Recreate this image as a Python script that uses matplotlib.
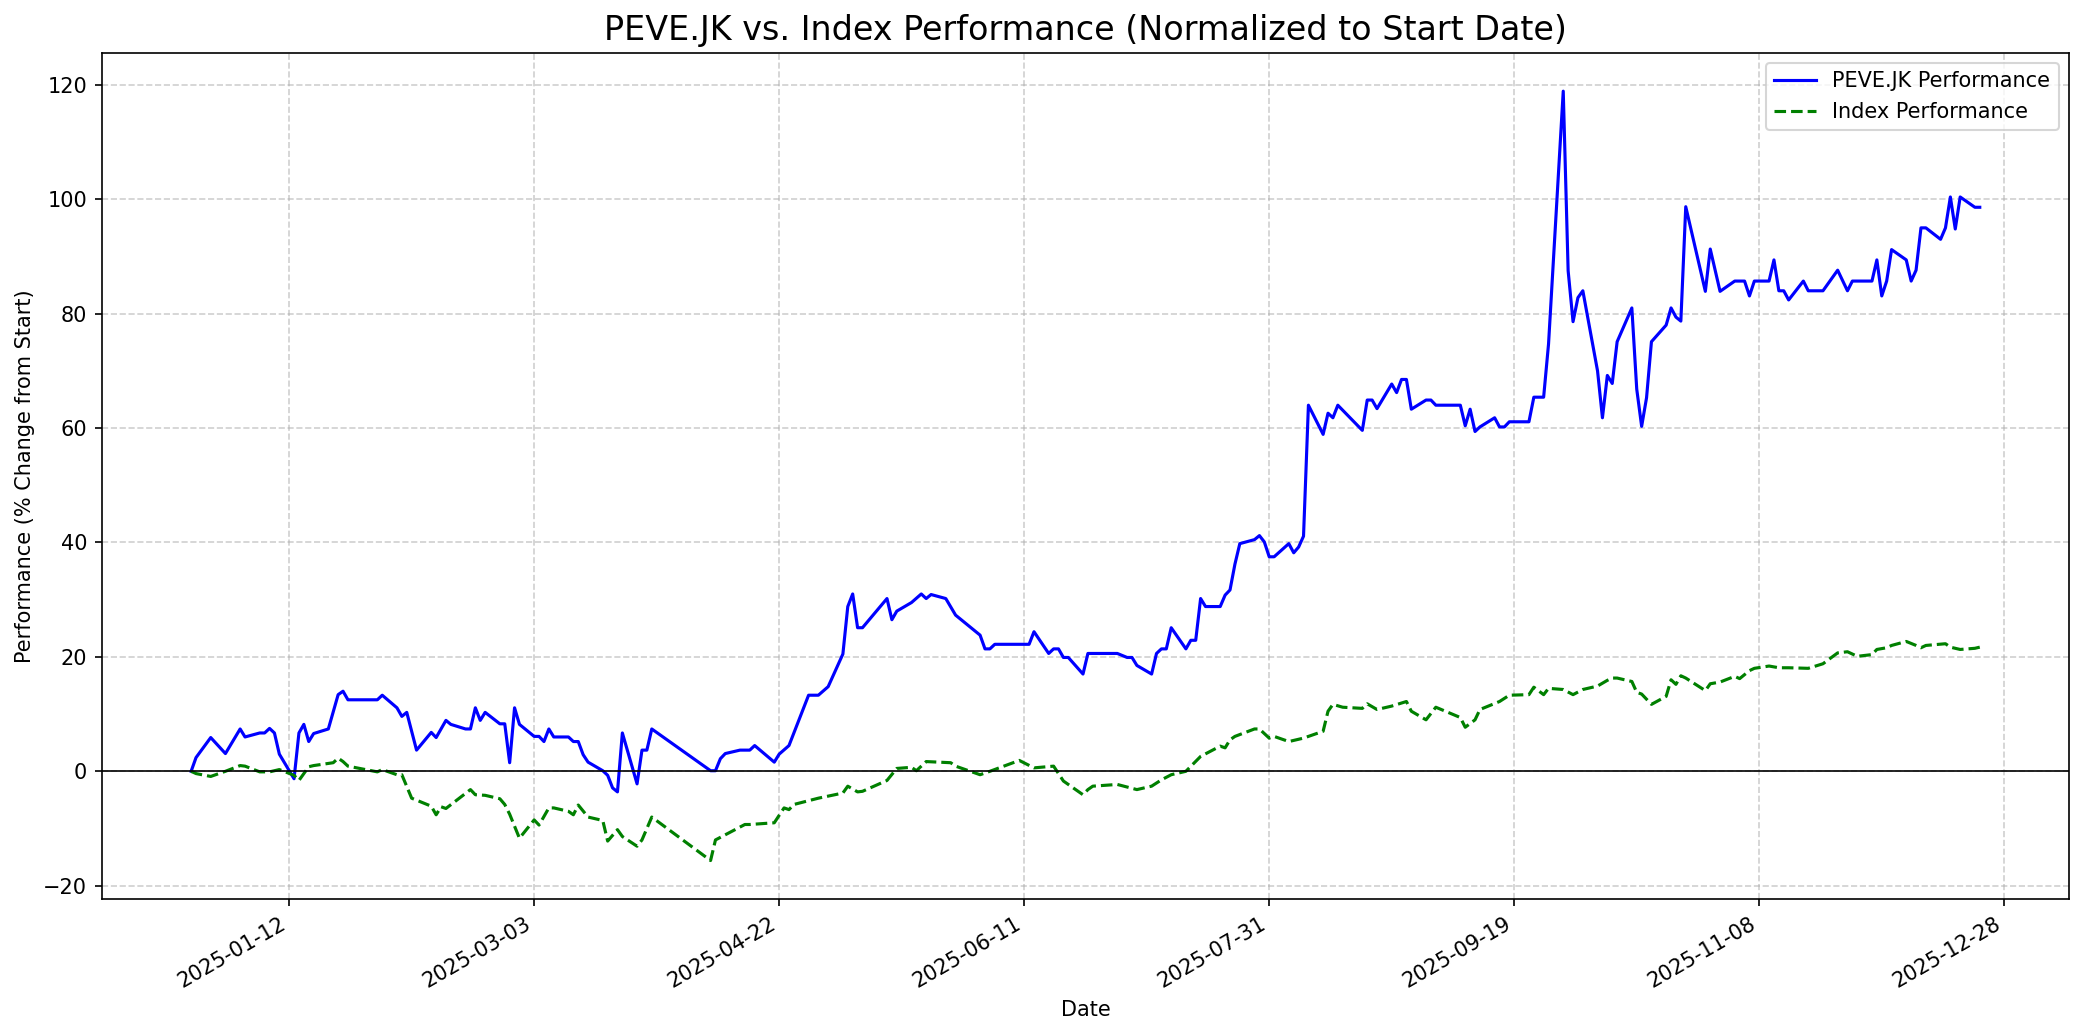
import matplotlib
matplotlib.use('Agg')
import matplotlib.pyplot as plt
import matplotlib.dates as mdates
from matplotlib.ticker import MultipleLocator
import pandas as pd

TICKER = 'PEVE.JK'

stock_dates = [
    '2024-12-23', '2024-12-24', '2024-12-27', '2024-12-30', '2025-01-02', '2025-01-03',
    '2025-01-06', '2025-01-07', '2025-01-08', '2025-01-09', '2025-01-10', '2025-01-13',
    '2025-01-14', '2025-01-15', '2025-01-16', '2025-01-17', '2025-01-20', '2025-01-22',
    '2025-01-23', '2025-01-24', '2025-01-30', '2025-01-31', '2025-02-03', '2025-02-04',
    '2025-02-05', '2025-02-07', '2025-02-10', '2025-02-11', '2025-02-13', '2025-02-14',
    '2025-02-17', '2025-02-18', '2025-02-19', '2025-02-20', '2025-02-21', '2025-02-24',
    '2025-02-25', '2025-02-26', '2025-02-27', '2025-02-28', '2025-03-03', '2025-03-04',
    '2025-03-05', '2025-03-06', '2025-03-07', '2025-03-10', '2025-03-11', '2025-03-12',
    '2025-03-13', '2025-03-14', '2025-03-17', '2025-03-18', '2025-03-19', '2025-03-20',
    '2025-03-21', '2025-03-24', '2025-03-25', '2025-03-26', '2025-03-27', '2025-04-08',
    '2025-04-09', '2025-04-10', '2025-04-11', '2025-04-14', '2025-04-15', '2025-04-16',
    '2025-04-17', '2025-04-21', '2025-04-22', '2025-04-24', '2025-04-28', '2025-04-29',
    '2025-04-30', '2025-05-02', '2025-05-05', '2025-05-06', '2025-05-07', '2025-05-08',
    '2025-05-09', '2025-05-14', '2025-05-15', '2025-05-16', '2025-05-19', '2025-05-21',
    '2025-05-22', '2025-05-23', '2025-05-26', '2025-05-28', '2025-06-02', '2025-06-03',
    '2025-06-04', '2025-06-05', '2025-06-12', '2025-06-13', '2025-06-16', '2025-06-17',
    '2025-06-18', '2025-06-19', '2025-06-20', '2025-06-23', '2025-06-24', '2025-06-30',
    '2025-07-02', '2025-07-03', '2025-07-04', '2025-07-07', '2025-07-08', '2025-07-09',
    '2025-07-10', '2025-07-11', '2025-07-14', '2025-07-15', '2025-07-16', '2025-07-17',
    '2025-07-18', '2025-07-21', '2025-07-22', '2025-07-23', '2025-07-24', '2025-07-25',
    '2025-07-28', '2025-07-29', '2025-07-30', '2025-07-31', '2025-08-01', '2025-08-04',
    '2025-08-05', '2025-08-06', '2025-08-07', '2025-08-08', '2025-08-11', '2025-08-12',
    '2025-08-13', '2025-08-14', '2025-08-19', '2025-08-20', '2025-08-21', '2025-08-22',
    '2025-08-25', '2025-08-26', '2025-08-27', '2025-08-28', '2025-08-29', '2025-09-01',
    '2025-09-02', '2025-09-03', '2025-09-08', '2025-09-09', '2025-09-10', '2025-09-11',
    '2025-09-12', '2025-09-15', '2025-09-16', '2025-09-17', '2025-09-18', '2025-09-22',
    '2025-09-23', '2025-09-25', '2025-09-26', '2025-09-29', '2025-09-30', '2025-10-01',
    '2025-10-02', '2025-10-03', '2025-10-06', '2025-10-07', '2025-10-08', '2025-10-09',
    '2025-10-10', '2025-10-13', '2025-10-14', '2025-10-15', '2025-10-16', '2025-10-17',
    '2025-10-20', '2025-10-21', '2025-10-22', '2025-10-23', '2025-10-24', '2025-10-28',
    '2025-10-29', '2025-10-31', '2025-11-03', '2025-11-05', '2025-11-06', '2025-11-07',
    '2025-11-10', '2025-11-11', '2025-11-12', '2025-11-13', '2025-11-14', '2025-11-17',
    '2025-11-18', '2025-11-21', '2025-11-24', '2025-11-26', '2025-11-27', '2025-12-01',
    '2025-12-02', '2025-12-03', '2025-12-04', '2025-12-05', '2025-12-08', '2025-12-09',
    '2025-12-10', '2025-12-11', '2025-12-12', '2025-12-15', '2025-12-16', '2025-12-17',
    '2025-12-18', '2025-12-19', '2025-12-22', '2025-12-23',
]
stock_perf = [
    0.0, 2.4, 5.9, 3.1, 7.4, 6.0,
    6.7, 6.7, 7.5, 6.7, 3.0, -1.3,
    6.7, 8.2, 5.2, 6.6, 7.4, 13.4,
    14.0, 12.5, 12.5, 13.3, 11.1, 9.6,
    10.3, 3.7, 6.8, 5.9, 8.9, 8.2,
    7.4, 7.4, 11.1, 8.9, 10.3, 8.3,
    8.3, 1.5, 11.1, 8.2, 6.1, 6.1,
    5.2, 7.4, 6.0, 6.0, 5.2, 5.2,
    2.9, 1.6, 0.1, -0.7, -2.9, -3.6,
    6.7, -2.2, 3.7, 3.7, 7.4, 0.1,
    0.1, 2.2, 3.1, 3.7, 3.7, 3.7,
    4.5, 1.6, 3.0, 4.5, 13.3, 13.3,
    13.3, 14.8, 20.5, 28.8, 31.0, 25.1,
    25.1, 30.2, 26.5, 28.0, 29.5, 31.0,
    30.2, 30.9, 30.2, 27.3, 23.8, 21.4,
    21.4, 22.2, 22.2, 24.4, 20.6, 21.4,
    21.4, 19.9, 19.9, 17.0, 20.6, 20.6,
    19.9, 19.9, 18.5, 17.0, 20.6, 21.4,
    21.4, 25.1, 21.4, 22.9, 22.9, 30.2,
    28.8, 28.8, 30.8, 31.7, 36.2, 39.8,
    40.5, 41.2, 40.1, 37.5, 37.5, 39.8,
    38.2, 39.2, 41.1, 64.0, 58.9, 62.6,
    61.8, 64.0, 59.6, 64.9, 64.9, 63.4,
    67.7, 66.2, 68.5, 68.5, 63.3, 64.9,
    64.9, 64.0, 64.0, 60.4, 63.3, 59.4,
    60.2, 61.8, 60.2, 60.2, 61.1, 61.1,
    65.4, 65.4, 74.7, 118.9, 87.5, 78.6,
    82.8, 84.0, 70.0, 61.8, 69.2, 67.8,
    75.1, 81.0, 66.8, 60.3, 65.3, 75.1,
    78.0, 81.0, 79.4, 78.7, 98.7, 83.9,
    91.3, 83.9, 85.7, 85.7, 83.1, 85.7,
    85.7, 89.4, 84.0, 84.0, 82.4, 85.7,
    84.0, 84.0, 87.6, 84.0, 85.7, 85.7,
    89.4, 83.1, 85.7, 91.2, 89.4, 85.7,
    87.6, 95.0, 95.0, 93.0, 95.0, 100.4,
    94.8, 100.4, 98.6, 98.6,
]

index_dates = [
    '2024-12-23', '2024-12-24', '2024-12-27', '2024-12-30', '2025-01-02', '2025-01-03',
    '2025-01-06', '2025-01-08', '2025-01-10', '2025-01-13', '2025-01-14', '2025-01-16',
    '2025-01-17', '2025-01-21', '2025-01-22', '2025-01-23', '2025-01-24', '2025-01-30',
    '2025-01-31', '2025-02-03', '2025-02-04', '2025-02-06', '2025-02-10', '2025-02-11',
    '2025-02-12', '2025-02-13', '2025-02-18', '2025-02-19', '2025-02-21', '2025-02-24',
    '2025-02-25', '2025-02-26', '2025-02-28', '2025-03-03', '2025-03-04', '2025-03-06',
    '2025-03-07', '2025-03-10', '2025-03-11', '2025-03-12', '2025-03-14', '2025-03-17',
    '2025-03-18', '2025-03-20', '2025-03-21', '2025-03-24', '2025-03-25', '2025-03-27',
    '2025-04-08', '2025-04-09', '2025-04-11', '2025-04-15', '2025-04-16', '2025-04-21',
    '2025-04-23', '2025-04-24', '2025-04-25', '2025-04-30', '2025-05-05', '2025-05-06',
    '2025-05-08', '2025-05-09', '2025-05-14', '2025-05-16', '2025-05-19', '2025-05-20',
    '2025-05-22', '2025-05-27', '2025-05-28', '2025-06-02', '2025-06-04', '2025-06-10',
    '2025-06-13', '2025-06-17', '2025-06-19', '2025-06-23', '2025-06-24', '2025-06-25',
    '2025-06-30', '2025-07-04', '2025-07-07', '2025-07-09', '2025-07-11', '2025-07-14',
    '2025-07-17', '2025-07-21', '2025-07-22', '2025-07-23', '2025-07-24', '2025-07-28',
    '2025-07-29', '2025-07-31', '2025-08-01', '2025-08-04', '2025-08-07', '2025-08-08',
    '2025-08-11', '2025-08-12', '2025-08-13', '2025-08-15', '2025-08-19', '2025-08-20',
    '2025-08-22', '2025-08-25', '2025-08-28', '2025-08-29', '2025-09-01', '2025-09-03',
    '2025-09-08', '2025-09-09', '2025-09-11', '2025-09-12', '2025-09-16', '2025-09-18',
    '2025-09-22', '2025-09-23', '2025-09-25', '2025-09-26', '2025-09-29', '2025-10-01',
    '2025-10-03', '2025-10-06', '2025-10-08', '2025-10-09', '2025-10-10', '2025-10-13',
    '2025-10-14', '2025-10-15', '2025-10-17', '2025-10-20', '2025-10-21', '2025-10-22',
    '2025-10-23', '2025-10-24', '2025-10-28', '2025-10-29', '2025-10-31', '2025-11-03',
    '2025-11-04', '2025-11-06', '2025-11-07', '2025-11-10', '2025-11-12', '2025-11-14',
    '2025-11-18', '2025-11-21', '2025-11-24', '2025-11-26', '2025-11-28', '2025-12-01',
    '2025-12-02', '2025-12-04', '2025-12-05', '2025-12-08', '2025-12-10', '2025-12-11',
    '2025-12-12', '2025-12-16', '2025-12-17', '2025-12-19', '2025-12-22', '2025-12-23',
]
index_perf = [
    0.0, -0.4, -0.9, 0.0, 1.0, 0.9,
    -0.1, -0.1, 0.3, -0.7, -1.6, 0.8,
    1.0, 1.5, 2.3, 1.7, 0.9, -0.1,
    0.3, -0.6, -0.6, -4.7, -6.1, -7.6,
    -6.2, -6.5, -3.2, -4.1, -4.2, -4.8,
    -5.8, -7.5, -11.7, -8.5, -9.4, -6.4,
    -6.4, -7.0, -7.6, -5.9, -8.0, -8.6,
    -12.2, -10.2, -11.4, -13.1, -12.0, -8.0,
    -15.6, -12.0, -11.1, -9.3, -9.3, -9.0,
    -6.4, -6.7, -5.8, -4.7, -3.8, -2.6,
    -3.6, -3.5, -1.6, 0.5, 0.7, 0.1,
    1.7, 1.5, 0.9, -0.6, 0.0, 1.9,
    0.6, 0.9, -1.7, -4.1, -3.2, -2.6,
    -2.3, -3.2, -2.6, -1.5, -0.6, 0.0,
    2.6, 4.4, 4.1, 5.5, 6.1, 7.4,
    7.4, 5.8, 6.1, 5.2, 5.8, 6.1,
    7.0, 10.5, 11.7, 11.2, 11.0, 11.8,
    10.8, 11.4, 12.2, 10.5, 9.0, 11.2,
    9.4, 7.7, 9.0, 10.8, 12.2, 13.3,
    13.4, 14.7, 13.4, 14.5, 14.3, 13.4,
    14.3, 14.9, 15.9, 16.3, 16.3, 15.7,
    13.8, 13.5, 11.7, 13.1, 16.0, 15.2,
    16.7, 16.3, 14.1, 15.3, 15.6, 16.6,
    16.2, 17.6, 18.0, 18.4, 18.1, 18.1,
    18.0, 18.8, 20.7, 20.9, 20.1, 20.4,
    21.3, 21.6, 22.0, 22.7, 22.0, 21.6,
    22.0, 22.3, 21.7, 21.3, 21.5, 21.7,
]

stock_x = pd.to_datetime(stock_dates)
index_x = pd.to_datetime(index_dates)

fig, ax = plt.subplots(figsize=(2084 / 150, 1035 / 150), dpi=150)
ax.plot(stock_x, stock_perf, color='blue', linewidth=1.5, label=f'{TICKER} Performance')
ax.plot(index_x, index_perf, color='green', linestyle='--', linewidth=1.5, label='Index Performance')
ax.axhline(0, color='black', linewidth=0.8)

# ticks every 50 days (2025-01-12, 2025-03-03, ...)
ax.xaxis.set_major_locator(MultipleLocator(50))
ax.xaxis.set_major_formatter(mdates.DateFormatter('%Y-%m-%d'))

ax.set_title(f'{TICKER} vs. Index Performance (Normalized to Start Date)', fontsize=16)
ax.set_xlabel('Date')
ax.set_ylabel('Performance (% Change from Start)')
ax.legend(loc='upper right')
ax.grid(True, linestyle='--', alpha=0.6)
fig.autofmt_xdate()
fig.subplots_adjust(left=0.0488, right=0.9929, top=0.9491, bottom=0.1314)
fig.savefig('out.png', dpi=150)
plt.close(fig)
